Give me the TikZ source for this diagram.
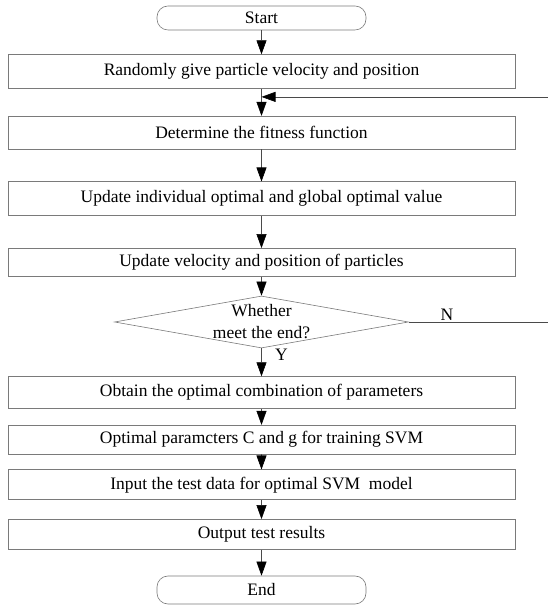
\documentclass[tikz,border=0pt]{standalone}
\usepackage{fontspec}
\setmainfont{Liberation Serif}
\usepackage{tikz}
\usetikzlibrary{positioning, arrows.meta, shapes.geometric}
\definecolor{boxline}{HTML}{7A7A7A}
\definecolor{flowline}{HTML}{4A4A4A}

\begin{document}
\begin{tikzpicture}[
  x=1pt, y=1pt,
  every node/.style={font=\fontsize{17.5}{22}\selectfont, text=black},
  process/.style={
    draw=boxline,
    line width=0.6pt,
    minimum width=507pt,
    fill=white,
    align=center,
    inner sep=0pt,
  },
  terminal/.style={
    draw=boxline,
    line width=0.6pt,
    rounded corners=11pt,
    minimum width=209pt,
    fill=white,
    inner sep=0pt,
  },
  decision/.style={
    diamond,
    draw=boxline,
    line width=0.6pt,
    minimum width=294pt,
    minimum height=52pt,
    inner sep=0pt,
  },
  flow/.style={
    -{Triangle[length=14pt, width=10pt, color=black]},
    line width=0.6pt,
    draw=flowline,
  },
  loopline/.style={
    line width=0.6pt,
    draw=flowline,
  },
]
  \useasboundingbox (0,0) rectangle (548,607);

  \node[terminal, minimum height=24pt] (start) at (261.5,589) {Start};
  \node[process, minimum height=34pt, below=24pt of start] (init) {Randomly give particle velocity and position};
  \node[process, minimum height=33pt, below=27pt of init] (fitness) {Determine the fitness function};
  \node[process, minimum height=34pt, below=32pt of fitness] (best) {Update individual optimal and global optimal value};
  \node[process, minimum height=28pt, below=32pt of best] (move) {Update velocity and position of particles};
  \node[decision, below=19pt of move] (check) {};
  \node[align=center] (checktext) at (check) {Whether\\meet the end?};
  \node[process, minimum height=32pt, below=28pt of check] (combo) {Obtain the optimal combination of parameters};
  \node[process, minimum height=29pt, below=16pt of combo] (params) {Optimal paramcters C and g for training SVM};
  \node[process, minimum height=30pt, below=15pt of params] (testin) {Input the test data for optimal SVM~ model};
  \node[process, minimum height=30pt, below=19pt of testin] (results) {Output test results};
  \node[terminal, minimum height=28pt, below=26pt of results] (stop) {End};

  \coordinate[below=8pt of init.south] (join);
  \coordinate (loopin) at (join -| 548,0);
  \coordinate (loopout) at (check.east -| 548,0);

  \draw[flow] (start) -- (init);
  \draw[flow] (init) -- (fitness);
  \draw[flow] (loopin) -- (join);
  \draw[flow] (fitness) -- (best);
  \draw[flow] (best) -- (move);
  \draw[flow] (move) -- (check);
  \draw[loopline] (check.east) -- (loopout);
  \draw[flow] (check) -- (combo);
  \draw[flow] (combo) -- (params);
  \draw[flow] (params) -- (testin);
  \draw[flow] (testin) -- (results);
  \draw[flow] (results) -- (stop);

  \node[anchor=south, inner sep=1pt] (nolabel) at (loopout -| 447,0) {N};
  \node[anchor=north west, inner sep=1pt] (yeslabel) at (check.south -| 274,0) {Y};
\end{tikzpicture}
\end{document}
